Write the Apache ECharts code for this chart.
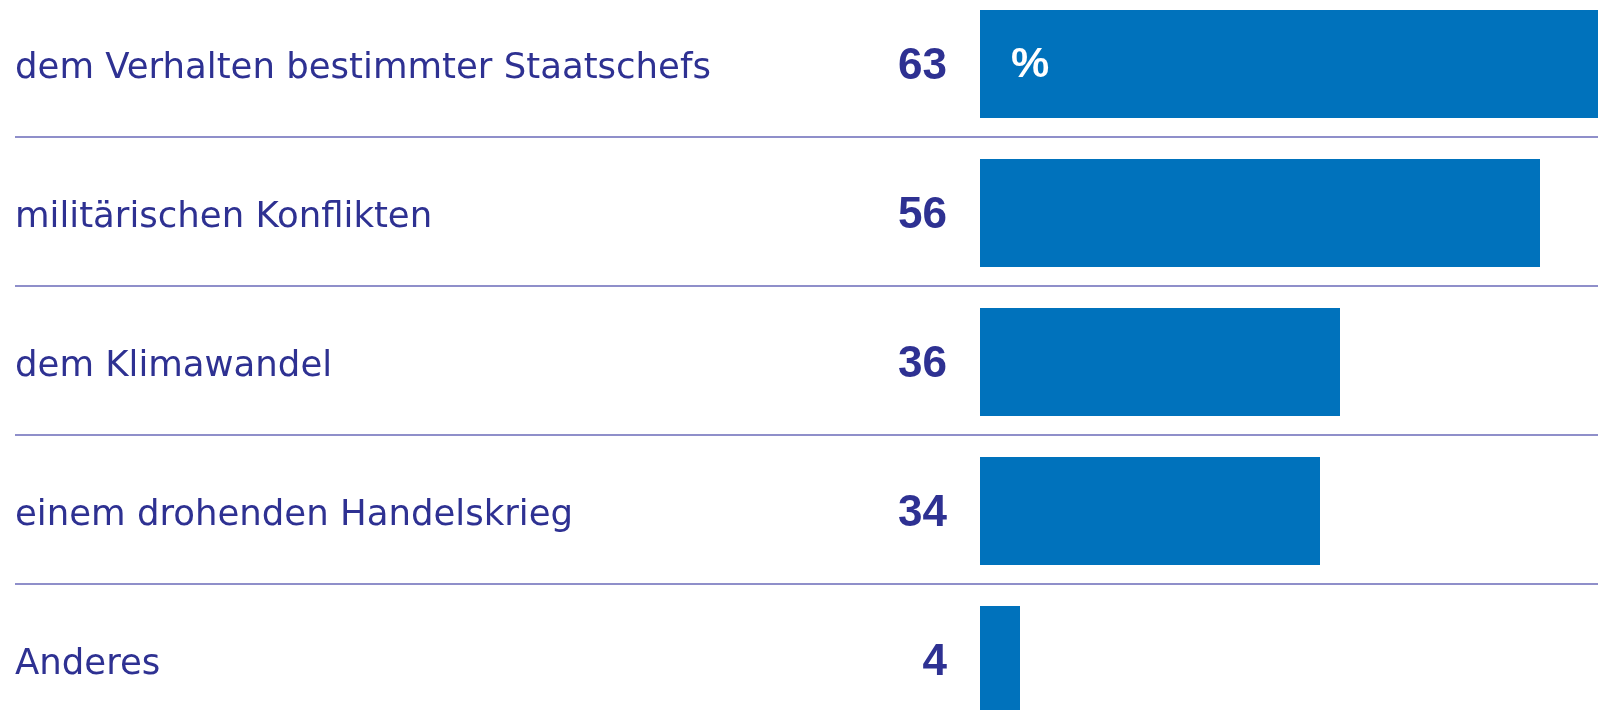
<!DOCTYPE html>
<html>
<head>
<meta charset="utf-8">
<script src="https://cdn.jsdelivr.net/npm/echarts@6/dist/echarts.min.js"></script>
<style>
  html, body { margin: 0; padding: 0; background: #ffffff; overflow: hidden; width: 1598px; height: 710px; position: relative; }
  #chart { position: absolute; left: 0; top: -14px; width: 1598px; height: 770px; }
</style>
</head>
<body>
<div id="chart"></div>
<script>
const categories = [
  'dem Verhalten bestimmter Staatschefs',
  'militärischen Konflikten',
  'dem Klimawandel',
  'einem drohenden Handelskrieg',
  'Anderes'
];
const values = [63, 56, 36, 34, 4];
const unitLabel = '%';

const textColor = '#2E3192';
const barColor = '#0072BC';
const lineColor = '#6A6AB8';

const chart = echarts.init(document.getElementById('chart'), null, { renderer: 'canvas' });

const option = {
  backgroundColor: '#ffffff',
  animation: false,
  grid: [
    { left: 980, right: 0, top: 3.5, height: 745, containLabel: false },
    { left: 15, right: 0, top: 1.5, height: 745, containLabel: false }
  ],
  xAxis: [
    { gridIndex: 0, type: 'value', min: 0, max: 61.8, show: false },
    { gridIndex: 1, type: 'value', min: 0, max: 1, show: false }
  ],
  yAxis: [
    {
      gridIndex: 0,
      type: 'category',
      inverse: true,
      data: categories,
      axisLine: { show: false },
      axisTick: { show: false },
      splitLine: { show: false },
      axisLabel: {
        margin: 33,
        color: textColor,
        fontFamily: 'Liberation Sans',
        fontWeight: 'bold',
        fontSize: 44,
        verticalAlign: 'top',
        lineHeight: 6,
        formatter: (v, i) => String(values[i])
      }
    },
    {
      gridIndex: 1,
      type: 'category',
      inverse: true,
      data: categories,
      axisLine: { show: false },
      axisTick: { show: false },
      splitLine: { show: true, lineStyle: { color: lineColor, width: 1.5 } },
      axisLabel: {
        inside: true,
        margin: 0,
        color: textColor,
        fontFamily: 'DejaVu Sans',
        fontSize: 35.5,
        verticalAlign: 'top',
        lineHeight: 14
      }
    }
  ],
  series: [
    {
      type: 'bar',
      xAxisIndex: 0,
      yAxisIndex: 0,
      data: values,
      barWidth: 108,
      itemStyle: { color: barColor },
      label: {
        show: true,
        position: 'insideLeft',
        distance: 31,
        offset: [0, 1],
        color: '#ffffff',
        fontFamily: 'Liberation Sans',
        fontWeight: 'bold',
        fontSize: 43,
        formatter: (p) => p.dataIndex === 0 ? unitLabel : ''
      }
    }
  ]
};

chart.setOption(option);
</script>
</body>
</html>
